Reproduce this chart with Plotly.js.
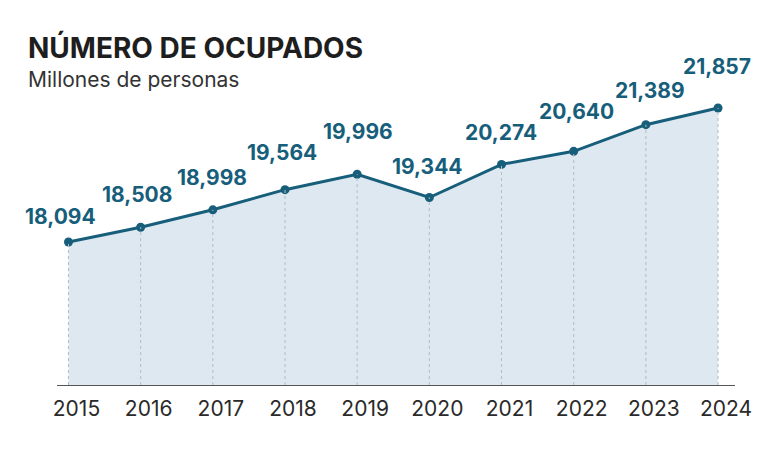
<!DOCTYPE html>
<html><head><meta charset="utf-8">
<script src="https://cdn.plot.ly/plotly-3.0.1.min.js"></script>
<style>html,body{margin:0;padding:0;background:#fff}#chart{width:770px;height:470px}</style>
</head><body><div id="chart"></div>
<script>
const years = [2015, 2016, 2017, 2018, 2019, 2020, 2021, 2022, 2023, 2024];
const ocupados = [18.094, 18.508, 18.998, 19.564, 19.996, 19.344, 20.274, 20.640, 21.389, 21.857];
const labels = ["18,094", "18,508", "18,998", "19,564", "19,996", "19,344", "20,274", "20,640", "21,389", "21,857"];
const titleText = "NÚMERO DE OCUPADOS";
const subtitleText = "Millones de personas";

// label placement (pixels), kept apart from the data
const labelDx = [-8, -4, -1, -3, 1, -2, -1, 3, 4, -1];
const labelDy = [15, 22, 22, 27, 32, 20, 21, 29, 24, 31];

const LINE = "#175e7b";
const FILL = "#dde8f1";
const FONT = "Inter, 'Open Sans', sans-serif";
const yMin = 14.077, yMax = 23.206;
const L = 57, R = 35, T = 60, B = 85;
const plotW = 770 - L - R, plotH = 470 - T - B;

const traces = [{
  x: years, y: ocupados, type: "scatter", mode: "lines+markers",
  line: {color: LINE, width: 3}, marker: {color: LINE, size: 9},
  fill: "tozeroy", fillcolor: FILL, hoverinfo: "skip"
}];

const shapes = years.map((yr, i) => ({
  type: "line", xref: "x", yref: "y", x0: yr, x1: yr, y0: yMin, y1: ocupados[i],
  line: {color: "#b5bbc2", width: 1, dash: "dot"}, layer: "above"
}));

const annotations = years.map((yr, i) => ({
  x: yr, y: ocupados[i], xref: "x", yref: "y", text: labels[i], showarrow: false,
  yanchor: "bottom", yshift: labelDy[i] - 4, xshift: labelDx[i],
  font: {family: FONT, size: 21, color: LINE, weight: 700}
}));
annotations.push({
  xref: "paper", yref: "paper", x: (27 - L) / plotW, y: (T + plotH - 29) / plotH,
  xanchor: "left", yanchor: "top", showarrow: false, text: "<b>" + titleText + "</b>",
  font: {family: FONT, size: 28, color: "#1e1e1e", weight: 700}, borderpad: 0
});
annotations.push({
  xref: "paper", yref: "paper", x: (27 - L) / plotW, y: (T + plotH - 66) / plotH,
  xanchor: "left", yanchor: "top", showarrow: false, text: subtitleText,
  font: {family: FONT, size: 21, color: "#333"}, borderpad: 0
});

const layout = {
  width: 770, height: 470,
  margin: {l: L, r: R, t: T, b: B},
  paper_bgcolor: "#fff", plot_bgcolor: "#fff",
  showlegend: false,
  xaxis: {range: [2014.841, 2024.235], tickvals: years, ticktext: years.map(String),
    showgrid: false, zeroline: false, showline: true, linecolor: "#555", linewidth: 1,
    ticks: "", ticklabelshift: 8, ticklabelstandoff: 5,
    tickfont: {family: FONT, size: 21, color: "#2a2a2a"}, fixedrange: true},
  yaxis: {range: [yMin, yMax], visible: false, showgrid: false, zeroline: false, fixedrange: true},
  shapes: shapes,
  annotations: annotations
};

Plotly.newPlot("chart", traces, layout, {displayModeBar: false, staticPlot: true});
</script></body></html>
